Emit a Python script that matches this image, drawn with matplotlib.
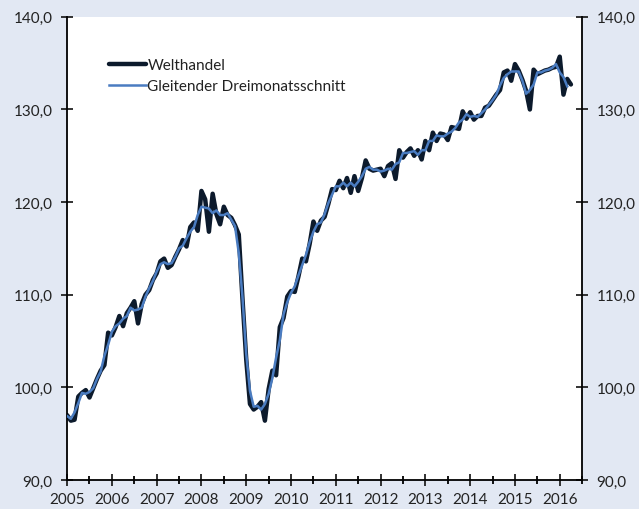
import numpy as np
import matplotlib.pyplot as plt
from matplotlib.ticker import MultipleLocator, FuncFormatter

# monthly index values, Jan 2005 .. Apr 2016
welthandel = [
    97.0, 96.4, 96.5, 99.0, 99.4, 99.7, 98.9, 99.9, 100.9, 101.8, 102.4, 105.9,        # 2005
    105.6, 106.5, 107.7, 106.6, 108.0, 108.6, 109.3, 106.9, 109.0, 110.0, 110.5, 111.6,  # 2006
    112.3, 113.6, 113.9, 112.9, 113.2, 114.1, 114.9, 115.9, 115.2, 117.3, 117.8, 116.9,  # 2007
    121.2, 120.3, 116.8, 120.9, 118.7, 117.6, 119.5, 118.6, 118.3, 117.5, 116.5, 109.5,  # 2008
    103.0, 98.2, 97.6, 97.9, 98.4, 96.4, 99.8, 101.8, 101.3, 106.5, 107.5, 109.8,        # 2009
    110.4, 110.3, 112.0, 113.9, 113.6, 115.5, 117.9, 116.9, 118.0, 118.4, 119.8, 121.4,  # 2010
    121.3, 122.3, 121.5, 122.6, 121.0, 122.8, 121.2, 122.6, 124.5, 123.6, 123.4, 123.5,  # 2011
    123.6, 122.8, 123.9, 124.2, 122.5, 125.6, 124.8, 125.4, 125.8, 125.0, 125.6, 124.6,  # 2012
    126.6, 125.6, 127.5, 126.6, 127.4, 127.3, 126.7, 128.1, 128.0, 127.9, 129.8, 129.0,  # 2013
    129.7, 128.9, 129.3, 129.3, 130.2, 130.4, 131.0, 131.6, 132.1, 134.0, 134.2, 133.1,  # 2014
    134.9, 134.2, 133.2, 132.0, 130.0, 134.3, 133.8, 134.0, 134.2, 134.3, 134.5, 134.6,  # 2015
    135.7, 131.6, 133.3, 132.7,                                                          # 2016
]

# three-month average
dreimonat = [
    96.9, 96.6, 97.3, 98.3, 99.4, 99.3, 99.5, 99.9, 100.9, 101.7, 103.4, 104.6,
    106.0, 106.6, 106.9, 107.4, 107.7, 108.6, 108.3, 108.4, 108.6, 109.8, 110.7, 111.5,
    112.5, 113.3, 113.5, 113.3, 113.4, 114.1, 115.0, 115.3, 116.1, 116.8, 117.3, 118.6,
    119.5, 119.4, 119.3, 118.8, 119.1, 118.6, 118.6, 118.8, 118.1, 117.4, 114.5, 109.7,
    103.6, 99.6, 97.9, 98.0, 97.6, 98.2, 99.3, 101.0, 103.2, 105.1, 107.9, 109.2,
    110.2, 110.9, 112.1, 113.2, 114.3, 115.7, 116.8, 117.6, 117.8, 118.7, 119.9, 120.8,
    121.7, 121.7, 122.1, 121.7, 122.1, 121.7, 122.2, 122.8, 123.6, 123.8, 123.5, 123.5,
    123.3, 123.4, 123.6, 123.5, 124.1, 124.3, 125.3, 125.3, 125.4, 125.5, 125.1, 125.6,
    125.6, 126.6, 126.6, 127.2, 127.1, 127.1, 127.4, 127.6, 128.0, 128.6, 128.9, 129.5,
    129.2, 129.3, 129.2, 129.6, 130.0, 130.5, 131.0, 131.6, 132.6, 133.4, 133.8, 134.1,
    134.1, 134.1, 133.1, 131.7, 132.1, 132.7, 134.0, 134.0, 134.2, 134.3, 134.5, 134.9,
    134.0, 133.5, 132.5,
]

years = list(range(2005, 2017))
t_w = 2005 + np.arange(len(welthandel)) / 12
t_m = 2005 + np.arange(len(dreimonat)) / 12

plt.rcParams["font.family"] = ["Lato", "DejaVu Sans"]
bg = "#e2e8f3"

fig = plt.figure(figsize=(6.39, 5.10), dpi=100, facecolor=bg)
ax = fig.add_axes([0.105, 0.057, 0.806, 0.908])
ax.set_facecolor("white")

ax.plot(t_w, welthandel, color="#0c1a2c", lw=3.2, solid_capstyle="round",
        solid_joinstyle="round", label="Welthandel", zorder=2)
ax.plot(t_m, dreimonat, color="#4a7cc1", lw=1.8, solid_joinstyle="round",
        label="Gleitender Dreimonatsschnitt", zorder=3)

ax.set_xlim(2005, 2016.5)
ax.set_ylim(90, 140)
ax.set_xticks(years)
ax.set_xticklabels([str(y) for y in years])
ax.xaxis.set_minor_locator(MultipleLocator(0.5))
ax.yaxis.set_major_locator(MultipleLocator(10))
ax.yaxis.set_major_formatter(FuncFormatter(lambda v, p: f"{v:.1f}".replace(".", ",")))

ax.spines["top"].set_visible(False)
for s in ("left", "right", "bottom"):
    ax.spines[s].set_linewidth(1.3)
    ax.spines[s].set_color("black")

ax.tick_params(axis="y", which="major", direction="inout", length=9, width=1.3,
               left=True, right=True, labelleft=True, labelright=True,
               labelsize=11, pad=6, colors="#222222")
ax.tick_params(axis="x", which="major", direction="inout", length=9, width=1.3,
               labelsize=11, pad=4, colors="#222222")
ax.tick_params(axis="x", which="minor", direction="inout", length=6, width=1.3)

leg = ax.legend(loc="upper left", bbox_to_anchor=(0.055, 0.94), frameon=False,
                fontsize=11, handlelength=2.4, handletextpad=0.1, labelspacing=0.45)
for txt in leg.get_texts():
    txt.set_color("#222222")

fig.savefig("out.png", dpi=100, facecolor=bg)
